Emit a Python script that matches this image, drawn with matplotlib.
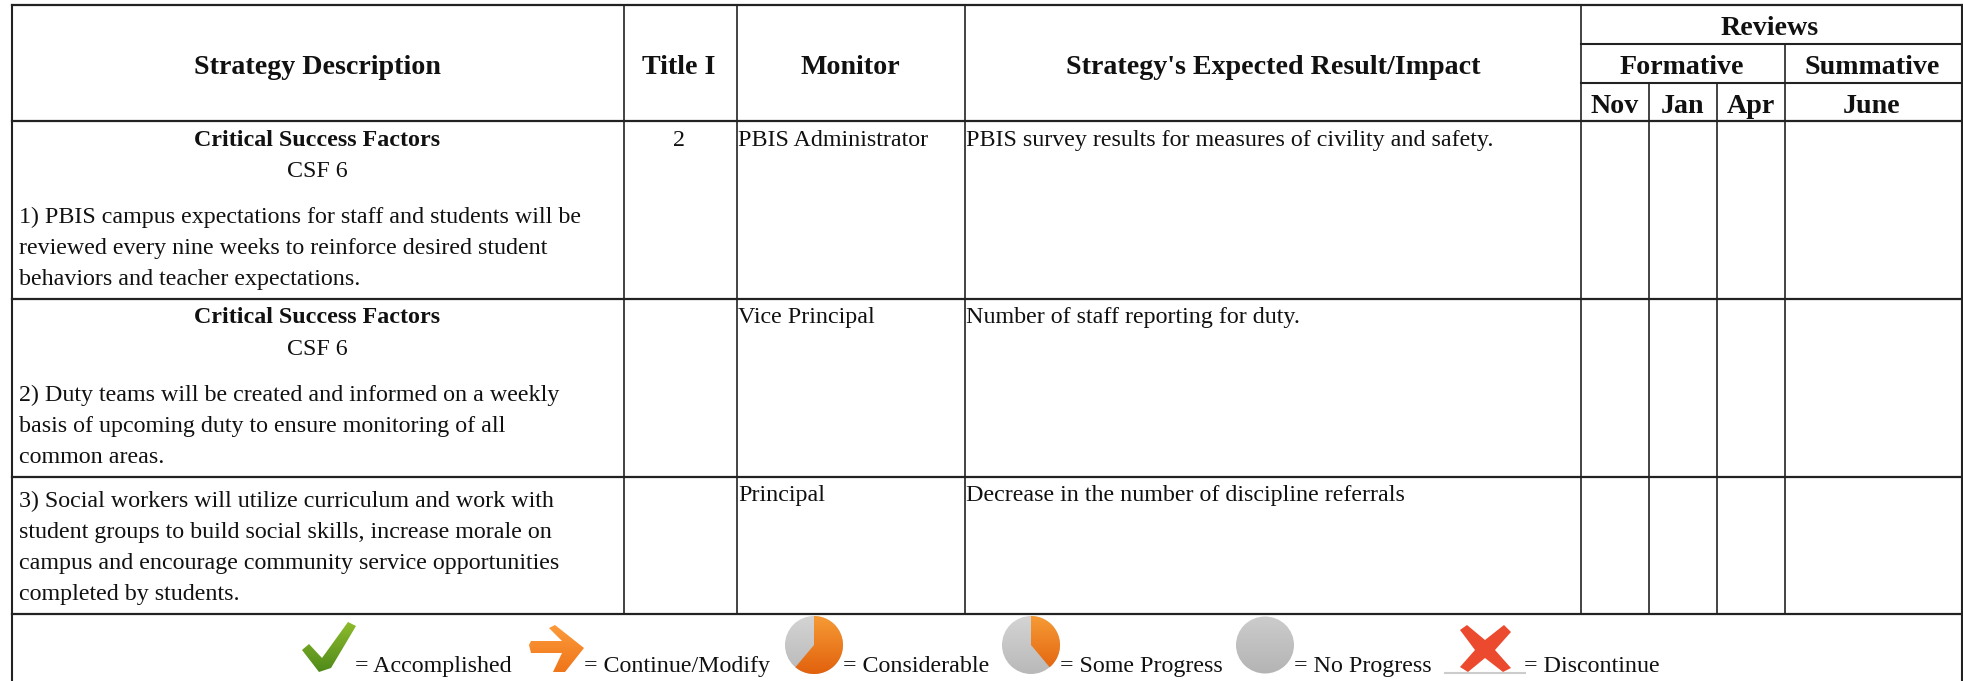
import numpy as np
import matplotlib
matplotlib.use('Agg')
import matplotlib.pyplot as plt
from matplotlib.colors import LinearSegmentedColormap
from matplotlib.patches import Ellipse, Polygon, Wedge, PathPatch
from matplotlib.path import Path

plt.rcParams['font.family'] = ['Liberation Serif', 'DejaVu Serif']

# table text
headers = ['Strategy Description', 'Title I', 'Monitor', "Strategy's Expected Result/Impact"]
review_top = 'Reviews'
review_groups = ['Formative', 'Summative']
review_months = ['Nov', 'Jan', 'Apr', 'June']
csf_heading = 'Critical Success Factors'
csf_code = 'CSF 6'
strategy_1 = ['1) PBIS campus expectations for staff and students will be',
              'reviewed every nine weeks to reinforce desired student',
              'behaviors and teacher expectations.']
strategy_2 = ['2) Duty teams will be created and informed on a weekly',
              'basis of upcoming duty to ensure monitoring of all',
              'common areas.']
strategy_3 = ['3) Social workers will utilize curriculum and work with',
              'student groups to build social skills, increase morale on',
              'campus and encourage community service opportunities',
              'completed by students.']
title_values = ['2', '', '']
monitors = ['PBIS Administrator', 'Vice Principal', 'Principal']
results = ['PBIS survey results for measures of civility and safety.',
           'Number of staff reporting for duty.',
           'Decrease in the number of discipline referrals']
legend_labels = ['= Accomplished', '= Continue/Modify', '= Considerable',
                 '= Some Progress', '= No Progress', '= Discontinue']

# grid, in image pixels
col_x = [12, 624, 737, 965, 1581, 1649, 1717, 1785, 1962]
row_y = [5, 121, 299, 477, 614, 681]
LINE = '#222222'
BODY = 17.3
HEAD = 20.2

fig = plt.figure(figsize=(19.63, 6.81), dpi=100)
ax = fig.add_axes([0, 0, 1, 1])
ax.set_xlim(0, 1963)
ax.set_ylim(681, 0)
ax.axis('off')


def body(x, y, s, ha='left', weight='normal'):
    ax.text(x, y, s, fontsize=BODY, ha=ha, va='baseline', color='#111111', fontweight=weight)


def head(x, y, s):
    ax.text(x, y, s, fontsize=HEAD, ha='center', va='baseline', color='#111111', fontweight='bold')


def grad_patch(patch, colors, extent, horizontal=False):
    # gradient image clipped to a patch
    cmap = LinearSegmentedColormap.from_list('g', colors)
    g = np.linspace(0, 1, 64).reshape(-1, 1)
    if horizontal:
        g = g.T
    patch.set_facecolor('none')
    patch.set_edgecolor('none')
    ax.add_patch(patch)
    im = ax.imshow(g, cmap=cmap, extent=extent, aspect='auto', zorder=2, interpolation='bilinear')
    im.set_clip_path(patch)


# horizontal lines
ax.plot([col_x[0], 1963], [row_y[0]] * 2, color=LINE, lw=1.6)
for y in row_y[1:5]:
    ax.plot([col_x[0], 1963], [y, y], color=LINE, lw=1.6)
ax.plot([col_x[4], 1962], [44, 44], color=LINE, lw=1.5)
ax.plot([col_x[4], 1962], [83, 83], color=LINE, lw=1.5)

# vertical lines
ax.plot([col_x[0]] * 2, [row_y[0], 681], color=LINE, lw=1.5)
ax.plot([col_x[-1]] * 2, [row_y[0], 681], color=LINE, lw=1.5)
for x in col_x[1:5]:
    ax.plot([x, x], [row_y[0], row_y[4]], color=LINE, lw=1.2)
ax.plot([col_x[7]] * 2, [44, row_y[4]], color=LINE, lw=1.2)
for x in col_x[5:7]:
    ax.plot([x, x], [83, row_y[4]], color=LINE, lw=1.2)

# header
head(317, 74, headers[0])
head(679, 74, headers[1])
head(850, 74, headers[2])
head(1273, 74, headers[3])
head(1770, 35, review_top)
head(1682, 74, review_groups[0])
head(1872, 74, review_groups[1])
for x, m in zip([1615, 1683, 1751, 1872], review_months):
    head(x, 113, m)

# row 1
body(317, 146, csf_heading, ha='center', weight='bold')
body(317, 177, csf_code, ha='center')
for y, s in zip([223, 254, 285], strategy_1):
    body(19, y, s)
# row 2
body(317, 323, csf_heading, ha='center', weight='bold')
body(317, 355, csf_code, ha='center')
for y, s in zip([401, 432, 463], strategy_2):
    body(19, y, s)
# row 3
for y, s in zip([507, 538, 569, 600], strategy_3):
    body(19, y, s)

for y, t, m, r in zip([146, 323, 501], title_values, monitors, results):
    if t:
        body(679, y, t, ha='center')
    body(738, y, m)
    body(966, y, r)

# legend icons
check = Polygon([(302, 650), (309, 644), (322, 658), (348, 622), (356, 626), (331, 668), (319, 672)], closed=True)
grad_patch(check, ['#8dbb2c', '#4f8a1a'], [302, 356, 672, 622])

arrow = Polygon([(529, 645), (531, 641), (562, 641), (549, 628), (555, 625), (584, 648), (565, 672), (553, 672),
                 (562, 653), (531, 653)], closed=True)
grad_patch(arrow, ['#fb9a3a', '#f0761a'], [529, 584, 672, 625])


def pie(cx, cy, rx, ry, theta1, theta2):
    e = Ellipse((cx, cy), rx * 2, ry * 2)
    grad_patch(e, ['#d4d4d4', '#b9b9b9'], [cx - rx, cx + rx, cy + ry, cy - ry])
    # wedge built on the unit circle, then scaled to the flattened disc
    t = np.radians(np.linspace(theta1, theta2, 60))
    verts = [(cx, cy)] + [(cx + rx * np.cos(a), cy - ry * np.sin(a)) for a in t] + [(cx, cy)]
    w = Polygon(verts, closed=True)
    grad_patch(w, ['#f69a35', '#e2620d'], [cx - rx, cx + rx, cy + ry, cy - ry])


pie(814, 645, 29, 29, -130, 90)
pie(1031, 645, 29, 29, -50, 90)
e = Ellipse((1265, 645), 58, 57)
grad_patch(e, ['#cccccc', '#b4b4b4'], [1236, 1294, 674, 616])

# red cross
ax.add_patch(Polygon([(1460, 630), (1467, 625), (1485, 640), (1504, 625), (1511, 632), (1495, 650), (1511, 668),
                      (1503, 672), (1485, 658), (1468, 672), (1460, 667), (1475, 650)],
                     closed=True, facecolor='#ec4a2e', edgecolor='none', zorder=2))
ax.plot([1445, 1525], [673, 673], color='#cccccc', lw=1.5, zorder=1)

# legend text
for x, s in zip([355, 584, 843, 1060, 1294, 1524], legend_labels):
    body(x, 672, s)

fig.savefig('out.png', dpi=100)
